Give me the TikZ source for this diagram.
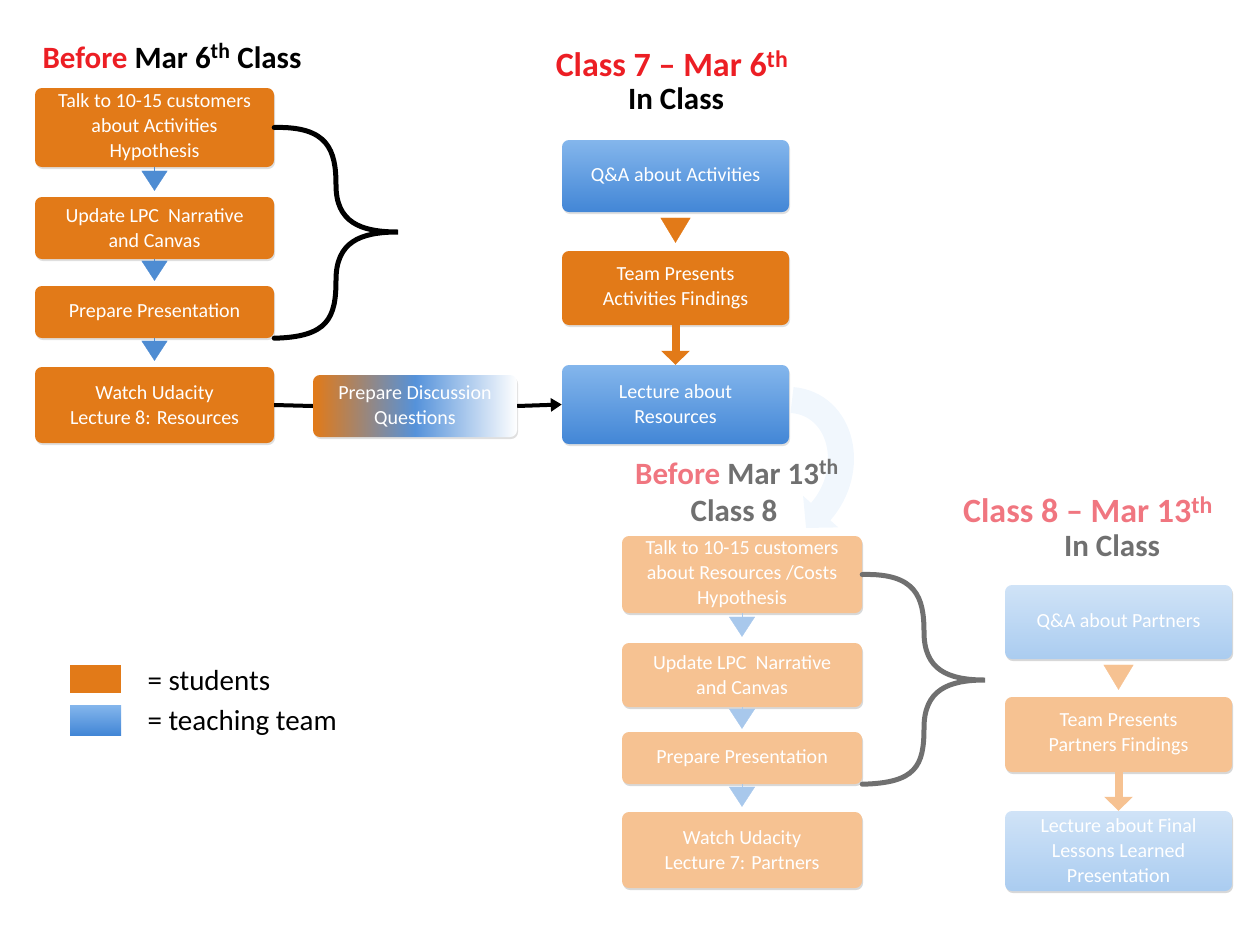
\documentclass[tikz,border=0pt]{standalone}
\usepackage{fontspec}
\setmainfont{Carlito}
\usepackage{xcolor}
\usepackage{tikz}
\usetikzlibrary{arrows.meta,shadows}
\definecolor{stuorange}{RGB}{226,122,24}
\definecolor{teamtop}{RGB}{132,182,236}
\definecolor{teambot}{RGB}{66,134,214}
\definecolor{paleorange}{RGB}{246,194,146}
\definecolor{paletop}{RGB}{208,227,247}
\definecolor{palebot}{RGB}{170,204,240}
\definecolor{headred}{RGB}{236,30,36}
\definecolor{headpink}{RGB}{240,118,128}
\definecolor{headgrey}{RGB}{112,112,112}
\definecolor{tricol}{RGB}{78,140,210}
\definecolor{paletri}{RGB}{168,200,236}

\begin{document}
\begin{tikzpicture}[x=1pt,y=-1pt,>=Stealth,
box/.style={rounded corners=7pt,minimum width=239pt,align=center,text=white,inner sep=2pt,font=\fontsize{20}{25}\selectfont,drop shadow={opacity=0.25,shadow xshift=1pt,shadow yshift=-2pt}},
stubox/.style={box,fill=stuorange},
teambox/.style={box,top color=teamtop,bottom color=teambot},
palestu/.style={box,fill=paleorange,drop shadow={opacity=0.08,shadow xshift=1pt,shadow yshift=-2pt}},
paleteam/.style={box,top color=paletop,bottom color=palebot,drop shadow={opacity=0.08,shadow xshift=1pt,shadow yshift=-2pt}},
tri/.style={-{Triangle[width=26pt,length=20pt]},line width=0.3pt,draw=tricol,fill=tricol,shorten >=6pt},
palet/.style={tri,draw=paletri,fill=paletri},
head/.style={font=\fontsize{31}{34}\bfseries\selectfont},
classhead/.style={font=\fontsize{34}{38}\bfseries\selectfont},
brace/.style={line width=5pt,line cap=round}]
\useasboundingbox (0,0) rectangle (1252,937);
% before Mar 6th
\node[head] (h1) at (172,56) {\textcolor{headred}{Before} Mar 6\textsuperscript{th} Class};
\node[stubox,minimum height=79pt] (a1) at (154.5,127.5) {Talk to 10-15 customers\\about Activities\\Hypothesis};
\node[stubox,minimum height=62pt] (a2) at (154.5,228) {Update LPC~ Narrative\\and Canvas};
\node[stubox,minimum height=52pt] (a3) at (154.5,312) {Prepare Presentation};
\node[stubox,minimum height=76pt] (a4) at (154.5,405) {Watch Udacity\\Lecture 8: Resources};
\node[box,minimum width=204pt,minimum height=62pt,left color=stuorange,right color=white,middle color=teambot!90] (pd) at (415,406) {Prepare Discussion\\Questions};
\draw[tri] (a1.south) -- (a2.north);
\draw[tri,shorten >=5pt] (a2.south) -- (a3.north);
\draw[tri] (a3.south) -- (a4.north);
\coordinate (tip1) at (398,232);
\draw[brace] (a1.east) .. controls (328,126) and (336,150) .. (336,185) .. controls (336,222) and (360,232) .. (tip1)
 .. controls (360,232) and (336,242) .. (336,280) .. controls (336,318) and (328,337) .. (a3.south east);
% class 7
\node[classhead,text=headred] (h2) at (672,64) {Class 7 -- Mar 6\textsuperscript{th}};
\node[head] (h2b) at (676,99) {In Class};
\node[teambox,minimum width=227pt,minimum height=72pt] (b1) at (675.5,176) {Q\&A about Activities};
\node[stubox,minimum width=227pt,minimum height=74pt] (b2) at (675.5,288) {Team Presents\\Activities Findings};
\node[teambox,minimum width=227pt,minimum height=79pt] (b3) at (675.5,404.5) {Lecture about\\Resources};
\draw[-{Triangle[width=30pt,length=25pt]},line width=0.3pt,draw=stuorange,fill=stuorange,shorten <=6pt,shorten >=8pt] (b1.south) -- (b2.north);
\draw[-{Triangle[width=28pt,length=14pt]},line width=8pt,draw=stuorange] (b2.south) -- (b3.north);
\draw[line width=4pt] (a4.east) -- (pd.west);
\draw[-{Triangle[width=13pt,length=11pt]},line width=4pt] (pd.east) -- (b3.west);
% faint arrow to class 8
\coordinate (arcA) at (792,400);
\coordinate (arcB) at (806,528);
\draw[-{Triangle[width=46pt,length=22pt]},line width=26pt,draw=paletop!30] (arcA) .. controls (842,404) and (858,470) .. (arcB);
% before Mar 13th
\node[head,text=headgrey] (h3) at (737,472) {\textcolor{headpink}{Before} Mar 13\textsuperscript{th}};
\node[head,text=headgrey] (h3b) at (734,511) {Class 8};
\node[palestu,minimum width=240pt,minimum height=77pt] (c1) at (742,574.5) {Talk to 10-15 customers\\about Resources /Costs\\Hypothesis};
\node[palestu,minimum width=240pt,minimum height=64pt] (c2) at (742,675) {Update LPC~ Narrative\\and Canvas};
\node[palestu,minimum width=240pt,minimum height=52pt] (c3) at (742,758) {Prepare Presentation};
\node[palestu,minimum width=240pt,minimum height=76pt] (c4) at (742,850) {Watch Udacity\\Lecture 7: Partners};
\draw[palet] (c1.south) -- (c2.north);
\draw[palet,shorten >=3pt] (c2.south) -- (c3.north);
\draw[palet,shorten >=5pt] (c3.south) -- (c4.north);
\coordinate (tip2) at (985,680);
\draw[brace,draw=headgrey] (c1.east) .. controls (916,573) and (924,597) .. (924,632) .. controls (924,670) and (948,680) .. (tip2)
 .. controls (948,680) and (924,690) .. (924,728) .. controls (924,766) and (916,783) .. (c3.south east);
% class 8
\node[classhead,text=headpink] (h4) at (1088,510) {Class 8 -- Mar 13\textsuperscript{th}};
\node[head,text=headgrey] (h4b) at (1112,546) {In Class};
\node[paleteam,minimum width=227pt,minimum height=74pt] (d1) at (1118.5,622) {Q\&A about Partners};
\node[palestu,minimum width=227pt,minimum height=75pt] (d2) at (1118.5,734.5) {Team Presents\\Partners Findings};
\node[paleteam,minimum width=227pt,minimum height=80pt] (d3) at (1118.5,851) {Lecture about Final\\Lessons Learned\\Presentation};
\draw[-{Triangle[width=30pt,length=25pt]},line width=0.3pt,draw=paleorange,fill=paleorange,shorten <=6pt,shorten >=7pt] (d1.south) -- (d2.north);
\draw[-{Triangle[width=28pt,length=14pt]},line width=8pt,draw=paleorange] (d2.south) -- (d3.north);
% legend
\node[fill=stuorange,minimum width=51pt,minimum height=28pt,inner sep=0pt] (l1) at (95.5,679) {};
\node[top color=teamtop,bottom color=teambot,minimum width=51pt,minimum height=30pt,inner sep=0pt] (l2) at (95.5,720) {};
\node[anchor=west,font=\fontsize{29}{32}\selectfont] (t1) at (144,681) {= students};
\node[anchor=west,font=\fontsize{29}{32}\selectfont] (t2) at (144,723) {= teaching team};
\end{tikzpicture}
\end{document}
